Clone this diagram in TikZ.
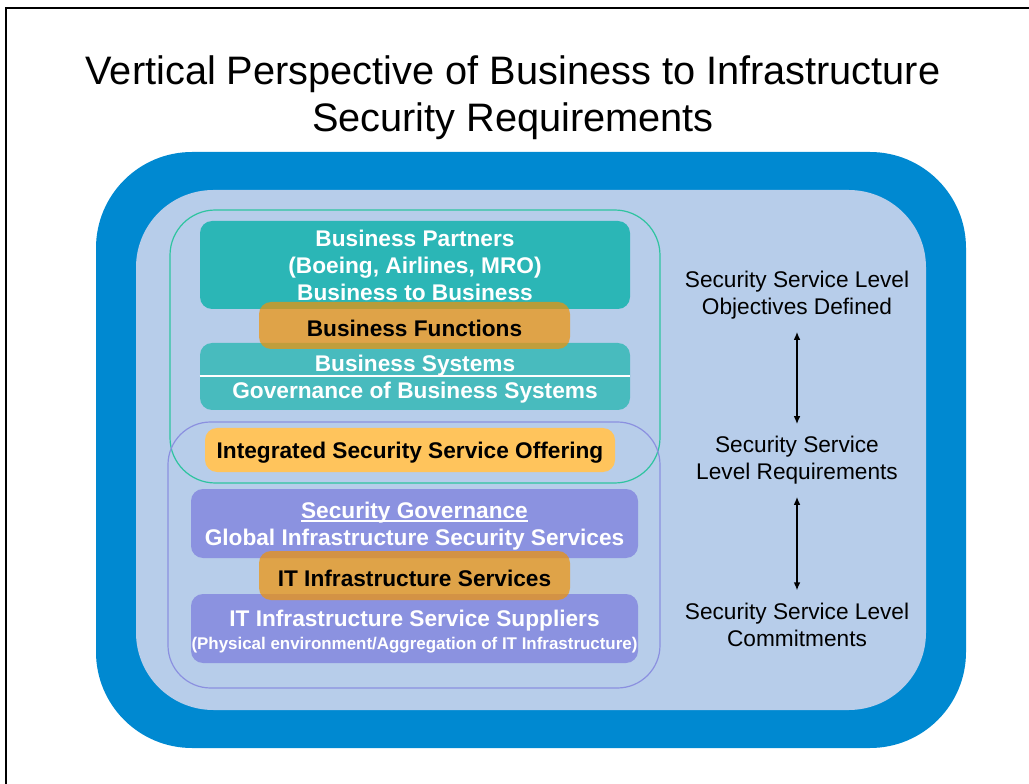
\documentclass[tikz,border=0pt]{standalone}
\usepackage{fontspec}
\setmainfont{Liberation Sans}
\usetikzlibrary{arrows.meta}
\definecolor{outerblue}{RGB}{0,137,209}
\definecolor{innerblue}{RGB}{183,205,234}
\definecolor{bizteal}{RGB}{43,182,182}
\definecolor{systeal}{RGB}{72,187,190}
\definecolor{funcorange}{RGB}{239,147,10}
\definecolor{offeryellow}{RGB}{255,196,92}
\definecolor{infrapurple}{RGB}{139,146,224}
\definecolor{greenline}{RGB}{46,196,160}
\definecolor{purpleline}{RGB}{139,144,224}
\newcommand{\boxfont}{\bfseries\fontsize{17}{20.25}\selectfont}
\newcommand{\tallstrut}{\rule{0pt}{17pt}}
\newcommand{\undergov}[1]{\setbox0\hbox{#1}\rlap{\rule[-2.2pt]{\wd0}{1.1pt}}\box0}

\begin{document}
\begin{tikzpicture}[x=0.75pt,y=-0.75pt,
    box/.style={shape=rectangle,rounded corners=9pt,inner sep=0pt,align=center,font=\boxfont},
    wide/.style={box,minimum width=322.5pt},
    layer/.style={box,minimum width=233.25pt,fill=funcorange,fill opacity=0.72,text opacity=1},
    infra/.style={box,fill=infrapurple,text=white,minimum width=335.25pt,minimum height=51.75pt},
    level/.style={align=center,inner xsep=0pt,inner ysep=9pt,font=\fontsize{17}{20.25}\selectfont},
    twoway/.style={line width=1.1pt,{Latex[length=6pt,width=5pt]}-{Latex[length=6pt,width=5pt]}}]
    \useasboundingbox (0,0) rectangle (1029,784);
    \fill[white] (0,0) rectangle (1029,784);
    \draw[line width=1.5pt] (6,784) -- (6,8) -- (1029,8);

    \node[align=center,font=\fontsize{29.8}{35.3}\selectfont] (title) at (513,97.5)
        {Vertical Perspective of Business to Infrastructure\\Security Requirements};

    \fill[outerblue,rounded corners=72pt] (96,152) rectangle (966,748);
    \fill[innerblue,rounded corners=58pt] (136,190) rectangle (926,710);
    \draw[greenline,line width=0.9pt,rounded corners=34pt] (170,210) rectangle (660,483);
    \draw[purpleline,line width=0.9pt,rounded corners=32pt] (168,422) rectangle (660,688);

    \node[wide,fill=bizteal,text=white,minimum height=66pt] (Bus_P) at (415,265)
        {Business Partners\\(Boeing, Airlines, MRO)\\Business to Business};
    \node[wide,fill=systeal,text=white,minimum height=50.25pt] (Bus_S) at (415,376.5)
        {\tallstrut Business Systems\\Governance of Business Systems};
    \draw[white,line width=1.5pt] (Bus_S.west) -- (Bus_S.east);
    \node[layer,minimum height=35.25pt] (Bus_F) at (414.5,325.5) {\tallstrut Business Functions};

    \node[box,fill=offeryellow,minimum width=307.5pt,minimum height=33pt] (Sec_O) at (410,450)
        {\tallstrut Integrated Security Service Offering};

    \node[infra] (Sec_G) at (414.5,523.5)
        {\tallstrut\undergov{Security Governance}\\Global Infrastructure Security Services};
    \node[infra] (IT_SS) at (414.5,628.5)
        {\tallstrut IT Infrastructure Service Suppliers\\[-3pt]{\fontsize{12.7}{15}\selectfont (Physical environment/Aggregation of IT Infrastructure)}};
    \node[layer,minimum height=36.75pt] (IT_S) at (414.5,575.5) {\tallstrut IT Infrastructure Services};

    \node[level] (SL_O) at (797,295.5) {Security Service Level\\Objectives Defined};
    \node[level] (SL_R) at (797,460.5) {Security Service\\Level Requirements};
    \node[level] (SL_C) at (797,624.5) {Security Service Level\\Commitments};

    \draw[twoway] (SL_O) -- (SL_R);
    \draw[twoway] (SL_R) -- (SL_C);
\end{tikzpicture}
\end{document}
